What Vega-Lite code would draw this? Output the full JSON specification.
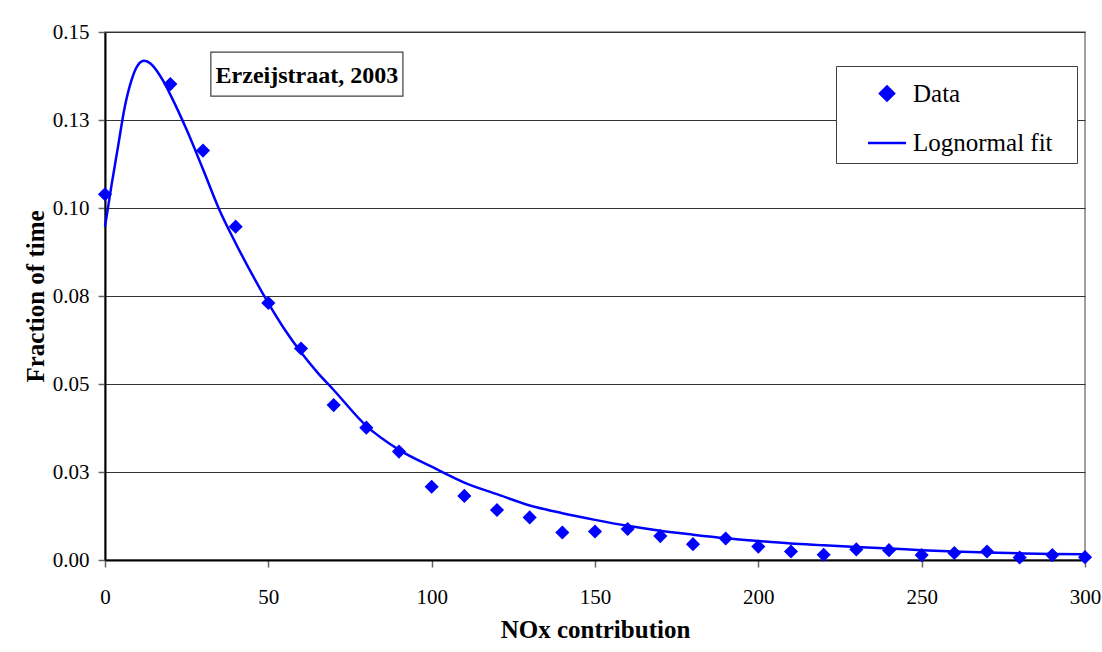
{
  "$schema": "https://vega.github.io/schema/vega-lite/v6.json",
  "width": 980,
  "height": 528,
  "autosize": "none",
  "padding": {"left": 105, "top": 32, "right": 17, "bottom": 92},
  "background": "white",
  "config": {
    "view": {"stroke": "#808080", "strokeWidth": 1.5},
    "font": "Liberation Serif",
    "legend": {
      "orient": "none", "legendX": 731, "legendY": 34,
      "titleOrient": "right", "titleOpacity": 0, "titleFontSize": 10, "titlePadding": 14.5,
      "padding": 7, "symbolOffset": 23.5, "labelOffset": 5.5, "rowPadding": 15.5, "symbolSize": 1444,
      "labelFont": "Liberation Serif", "labelFontSize": 25, "labelColor": "black", "labelLimit": 400,
      "strokeColor": "#404040", "fillColor": "white"
    }
  },
  "datasets": {
    "points": [
      {"x": 0, "y": 0.1039}, {"x": 20, "y": 0.1352}, {"x": 30, "y": 0.1163}, {"x": 40, "y": 0.0947},
      {"x": 50, "y": 0.0730}, {"x": 60, "y": 0.0601}, {"x": 70, "y": 0.0440}, {"x": 80, "y": 0.0376},
      {"x": 90, "y": 0.0308}, {"x": 100, "y": 0.0208}, {"x": 110, "y": 0.0182}, {"x": 120, "y": 0.0142},
      {"x": 130, "y": 0.0121}, {"x": 140, "y": 0.0078}, {"x": 150, "y": 0.0081}, {"x": 160, "y": 0.0088},
      {"x": 170, "y": 0.0068}, {"x": 180, "y": 0.0045}, {"x": 190, "y": 0.0061}, {"x": 200, "y": 0.0038},
      {"x": 210, "y": 0.0024}, {"x": 220, "y": 0.0015}, {"x": 230, "y": 0.0030}, {"x": 240, "y": 0.0028},
      {"x": 250, "y": 0.0014}, {"x": 260, "y": 0.0020}, {"x": 270, "y": 0.0024}, {"x": 280, "y": 0.0007},
      {"x": 290, "y": 0.0014}, {"x": 300, "y": 0.0008}
    ],
    "fit": [
      {"x": 0, "y": 0.0947}, {"x": 2, "y": 0.1065}, {"x": 4, "y": 0.1175}, {"x": 6, "y": 0.1285},
      {"x": 8, "y": 0.1360}, {"x": 10, "y": 0.1405}, {"x": 12, "y": 0.1418}, {"x": 14, "y": 0.1410},
      {"x": 16, "y": 0.1388}, {"x": 18, "y": 0.1358}, {"x": 20, "y": 0.1322}, {"x": 25, "y": 0.1222},
      {"x": 30, "y": 0.1110}, {"x": 35, "y": 0.0995}, {"x": 40, "y": 0.0900}, {"x": 45, "y": 0.0812},
      {"x": 50, "y": 0.0730}, {"x": 55, "y": 0.0655}, {"x": 60, "y": 0.0590}, {"x": 65, "y": 0.0533},
      {"x": 70, "y": 0.0483}, {"x": 80, "y": 0.0381}, {"x": 90, "y": 0.0313}, {"x": 100, "y": 0.0265},
      {"x": 110, "y": 0.0220}, {"x": 120, "y": 0.0187}, {"x": 130, "y": 0.0155}, {"x": 140, "y": 0.0133},
      {"x": 150, "y": 0.0114}, {"x": 160, "y": 0.0097}, {"x": 170, "y": 0.0083}, {"x": 180, "y": 0.0072},
      {"x": 190, "y": 0.0062}, {"x": 200, "y": 0.0054}, {"x": 210, "y": 0.0047}, {"x": 220, "y": 0.0042},
      {"x": 230, "y": 0.0037}, {"x": 240, "y": 0.0033}, {"x": 250, "y": 0.0028}, {"x": 260, "y": 0.0024},
      {"x": 270, "y": 0.0021}, {"x": 280, "y": 0.0019}, {"x": 290, "y": 0.0017}, {"x": 300, "y": 0.0016}
    ],
    "box": [
      {"x1": 32.4, "x2": 91.2, "y1": 0.1318, "y2": 0.1443, "xm": 61.8, "ym": 0.1356, "label": "Erzeijstraat, 2003"}
    ]
  },
  "encoding": {
    "x": {
      "field": "x", "type": "quantitative",
      "scale": {"domain": [0, 300], "nice": false, "zero": false},
      "axis": {
        "title": "NOx contribution",
        "values": [0, 50, 100, 150, 200, 250, 300],
        "grid": false,
        "domainColor": "black", "domainWidth": 2,
        "tickColor": "#666666", "tickWidth": 1.5, "tickSize": 7,
        "labelFont": "Liberation Serif", "labelFontSize": 21, "labelColor": "black", "labelPadding": 19,
        "labelFlush": false,
        "titleFont": "Liberation Serif", "titleFontSize": 25, "titleFontWeight": "bold", "titleColor": "black",
        "titleX": 490, "titleY": 77, "titleBaseline": "alphabetic", "titleAlign": "center", "titleAnchor": null
      }
    },
    "y": {
      "field": "y", "type": "quantitative",
      "scale": {"domain": [0, 0.15], "nice": false, "zero": false},
      "axis": {
        "title": "Fraction of time",
        "values": [0, 0.025, 0.05, 0.075, 0.1, 0.125, 0.15],
        "labelExpr": "format(datum.value + 0.0001, '.2f')",
        "grid": true, "gridColor": "#333333", "gridWidth": 1, "gridOpacity": 1,
        "domainColor": "black", "domainWidth": 2,
        "tickColor": "#666666", "tickWidth": 1.5, "tickSize": 7,
        "labelFont": "Liberation Serif", "labelFontSize": 21, "labelColor": "black", "labelPadding": 9,
        "titleFont": "Liberation Serif", "titleFontSize": 25, "titleFontWeight": "bold", "titleColor": "black",
        "titleX": -62, "titleY": 264, "titleAngle": 270, "titleBaseline": "alphabetic", "titleAlign": "center", "titleAnchor": null
      }
    }
  },
  "layer": [
    {
      "data": {"name": "fit"},
      "mark": {"type": "line", "interpolate": "monotone", "strokeWidth": 2.5},
      "encoding": {
        "color": {"datum": "Lognormal fit", "type": "nominal",
          "scale": {"domain": ["Data", "Lognormal fit"], "range": ["#0000ff", "#0000ff"]},
          "legend": {
            "title": ".",
            "encode": {
              "symbols": {
                "update": {
                  "shape": {"signal": "(datum.value === 'Data' || datum.label === 'Data') ? 'M0,-0.37L0.37,0L0,0.37L-0.37,0Z' : 'stroke'"},
                  "size": {"value": 1444},
                  "fill": {"signal": "(datum.value === 'Data' || datum.label === 'Data') ? '#0000ff' : 'transparent'"},
                  "stroke": {"signal": "(datum.value === 'Data' || datum.label === 'Data') ? 'transparent' : '#0000ff'"},
                  "strokeWidth": {"value": 2.5},
                  "opacity": {"value": 1}
                }
              }
            }
          }
        }
      }
    },
    {
      "data": {"name": "points"},
      "mark": {"type": "point", "shape": "diamond", "filled": true, "size": 200, "opacity": 1},
      "encoding": {
        "color": {"datum": "Data", "type": "nominal",
          "scale": {"domain": ["Data", "Lognormal fit"], "range": ["#0000ff", "#0000ff"]},
          "legend": {
            "title": ".",
            "encode": {
              "symbols": {
                "update": {
                  "shape": {"signal": "(datum.value === 'Data' || datum.label === 'Data') ? 'M0,-0.37L0.37,0L0,0.37L-0.37,0Z' : 'stroke'"},
                  "size": {"value": 1444},
                  "fill": {"signal": "(datum.value === 'Data' || datum.label === 'Data') ? '#0000ff' : 'transparent'"},
                  "stroke": {"signal": "(datum.value === 'Data' || datum.label === 'Data') ? 'transparent' : '#0000ff'"},
                  "strokeWidth": {"value": 2.5},
                  "opacity": {"value": 1}
                }
              }
            }
          }
        }
      }
    },
    {
      "data": {"name": "box"},
      "mark": {"type": "rect", "fill": "white", "stroke": "#404040", "strokeWidth": 1.2},
      "encoding": {
        "x": {"field": "x1", "type": "quantitative"},
        "x2": {"field": "x2"},
        "y": {"field": "y1", "type": "quantitative"},
        "y2": {"field": "y2"}
      }
    },
    {
      "data": {"name": "box"},
      "mark": {"type": "text", "font": "Liberation Serif", "fontSize": 24, "fontWeight": "bold", "color": "black", "align": "center", "baseline": "alphabetic"},
      "encoding": {
        "x": {"field": "xm", "type": "quantitative"},
        "y": {"field": "ym", "type": "quantitative"},
        "text": {"field": "label"}
      }
    }
  ]
}
